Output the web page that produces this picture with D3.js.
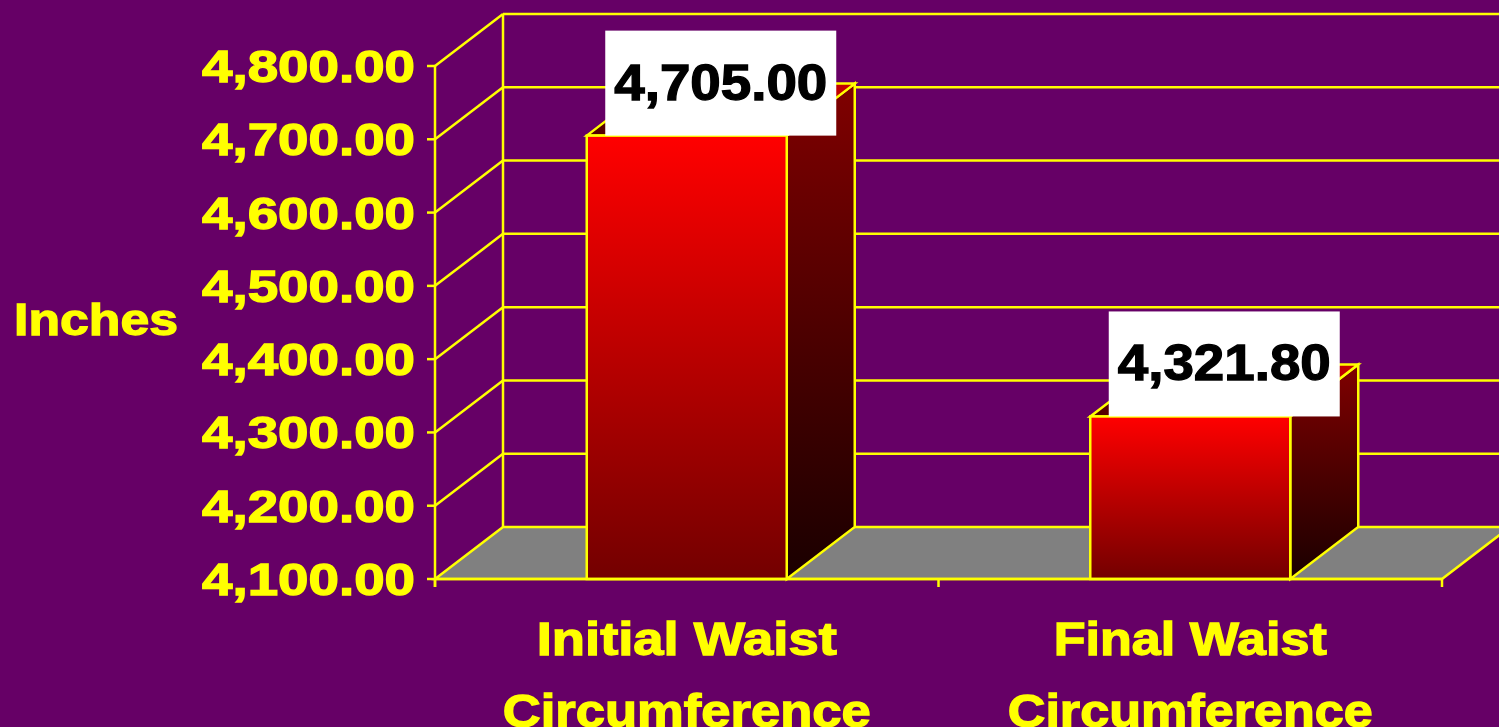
<!DOCTYPE html>
<html>
<head>
<meta charset="utf-8">
<script src="https://cdn.jsdelivr.net/npm/d3@7"></script>
<style>
  html, body { margin: 0; padding: 0; background: #660066; overflow: hidden; }
  text { font-family: "Liberation Sans", Arial, sans-serif; font-weight: bold; }
</style>
</head>
<body>
<div id="chart-container"></div>
<script>
// data
const categories = [["Initial Waist", "Circumference"], ["Final Waist", "Circumference"]];
const values = [4705.00, 4321.80];
const tickValues = [4100, 4200, 4300, 4400, 4500, 4600, 4700, 4800];
const axisTitle = "Inches";

const W = 1499, H = 727;
const DX = 68, DY = -52;      // depth offset of the 3d box
const BAR_W = 200;
const YELLOW = "#ffff00";
const LINE_W = 2.5;

const svg = d3.select("#chart-container").append("svg")
    .attr("width", W)
    .attr("height", H);

svg.append("rect").attr("width", W).attr("height", H).attr("fill", "#660066");

const y = d3.scaleLinear().domain([4100, 4800]).range([579, 66]);
const x = d3.scaleBand().domain(d3.range(categories.length)).range([435, 1442]).padding(0);
const fmt = d3.format(",.2f");

// gradients
const defs = svg.append("defs");
function grad(id, c0, c1, horiz) {
    const g = defs.append("linearGradient").attr("id", id)
        .attr("x1", 0).attr("y1", 0).attr("x2", horiz ? 1 : 0).attr("y2", horiz ? 0 : 1);
    g.append("stop").attr("offset", "0%").attr("stop-color", c0);
    g.append("stop").attr("offset", "100%").attr("stop-color", c1);
}
grad("front", "#ff0000", "#730000");
grad("side", "#800000", "#1a0000");
grad("top", "#500000", "#c80000", true);

const x0 = x.range()[0], x1 = x.range()[1];
const yBot = y(4100);

// walls: gridlines
const grid = svg.append("g").attr("stroke", YELLOW).attr("stroke-width", LINE_W).attr("fill", "none");
tickValues.forEach(v => {
    if (v === 4100) return;
    grid.append("line")
        .attr("x1", x0).attr("y1", y(v)).attr("x2", x0 + DX).attr("y2", y(v) + DY);
    grid.append("line")
        .attr("x1", x0 + DX).attr("y1", y(v) + DY).attr("x2", x1 + DX + 20).attr("y2", y(v) + DY);
});
grid.append("line")
    .attr("x1", x0 + DX).attr("y1", y(4800) + DY).attr("x2", x0 + DX).attr("y2", yBot + DY);

// floor
svg.append("polygon")
    .attr("points", [[x0, yBot], [x1, yBot], [x1 + DX, yBot + DY], [x0 + DX, yBot + DY]].join(" "))
    .attr("fill", "#808080")
    .attr("stroke", YELLOW)
    .attr("stroke-width", LINE_W);

// bars
const bars = svg.selectAll(".bar").data(values).enter().append("g").attr("class", "bar");
bars.each(function (d, i) {
    const g = d3.select(this);
    const bx0 = x(i) + x.bandwidth() / 2 - BAR_W / 2;
    const bx1 = bx0 + BAR_W;
    const top = y(d);
    g.append("polygon")
        .attr("points", [[bx1, top], [bx1 + DX, top + DY], [bx1 + DX, yBot + DY], [bx1, yBot]].join(" "))
        .attr("fill", "url(#side)").attr("stroke", YELLOW).attr("stroke-width", LINE_W);
    g.append("polygon")
        .attr("points", [[bx0, top], [bx0 + DX, top + DY], [bx1 + DX, top + DY], [bx1, top]].join(" "))
        .attr("fill", "url(#top)").attr("stroke", YELLOW).attr("stroke-width", LINE_W);
    g.append("rect")
        .attr("x", bx0).attr("y", top).attr("width", BAR_W).attr("height", yBot - top)
        .attr("fill", "url(#front)").attr("stroke", YELLOW).attr("stroke-width", LINE_W);
});

// front axes
const ax = svg.append("g").attr("stroke", YELLOW).attr("stroke-width", LINE_W);
ax.append("line").attr("x1", x0).attr("y1", y(4800)).attr("x2", x0).attr("y2", yBot + 8);
ax.append("line").attr("x1", x0).attr("y1", yBot).attr("x2", x1).attr("y2", yBot);
tickValues.forEach(v => {
    ax.append("line").attr("x1", x0 - 8).attr("y1", y(v)).attr("x2", x0).attr("y2", y(v));
});
[x0, x(1), x1].forEach(px => {
    ax.append("line").attr("x1", px).attr("y1", yBot).attr("x2", px).attr("y2", yBot + 8);
});

// tick labels
svg.selectAll(".tick-label").data(tickValues).enter().append("text")
    .attr("class", "tick-label")
    .attr("x", 202)
    .attr("y", d => y(d) + 16)
    .attr("font-size", 45)
    .attr("textLength", 213)
    .attr("lengthAdjust", "spacingAndGlyphs")
    .attr("fill", YELLOW)
    .attr("stroke", YELLOW)
    .attr("stroke-width", 1.3)
    .text(d => fmt(d));

// axis title
svg.append("text")
    .attr("x", 14).attr("y", 335)
    .attr("font-size", 45)
    .attr("textLength", 164)
    .attr("lengthAdjust", "spacingAndGlyphs")
    .attr("fill", YELLOW)
    .attr("stroke", YELLOW)
    .attr("stroke-width", 1.3)
    .text(axisTitle);

// category labels
const catWidths = [[300, 368], [273, 365]];
categories.forEach((lines, i) => {
    const cx = x(i) + x.bandwidth() / 2;
    lines.forEach((t, j) => {
        const w = catWidths[i][j];
        svg.append("text")
            .attr("x", cx - w / 2)
            .attr("y", 655 + j * 72)
            .attr("font-size", 46)
            .attr("textLength", w)
            .attr("lengthAdjust", "spacingAndGlyphs")
            .attr("fill", YELLOW)
            .attr("stroke", YELLOW)
            .attr("stroke-width", 1.3)
            .text(t);
    });
});

// value labels in white boxes
values.forEach((d, i) => {
    const cx = x(i) + x.bandwidth() / 2 + DX / 2;
    const top = y(d);
    svg.append("rect")
        .attr("x", cx - 115.5).attr("y", top - 105)
        .attr("width", 231).attr("height", 105)
        .attr("fill", "#ffffff");
    svg.append("text")
        .attr("x", cx - 106.5).attr("y", top - 36)
        .attr("font-size", 50)
        .attr("textLength", 213)
        .attr("lengthAdjust", "spacingAndGlyphs")
        .attr("fill", "#000000")
        .attr("stroke", "#000000")
        .attr("stroke-width", 1.3)
        .text(fmt(d));
});
</script>
</body>
</html>
